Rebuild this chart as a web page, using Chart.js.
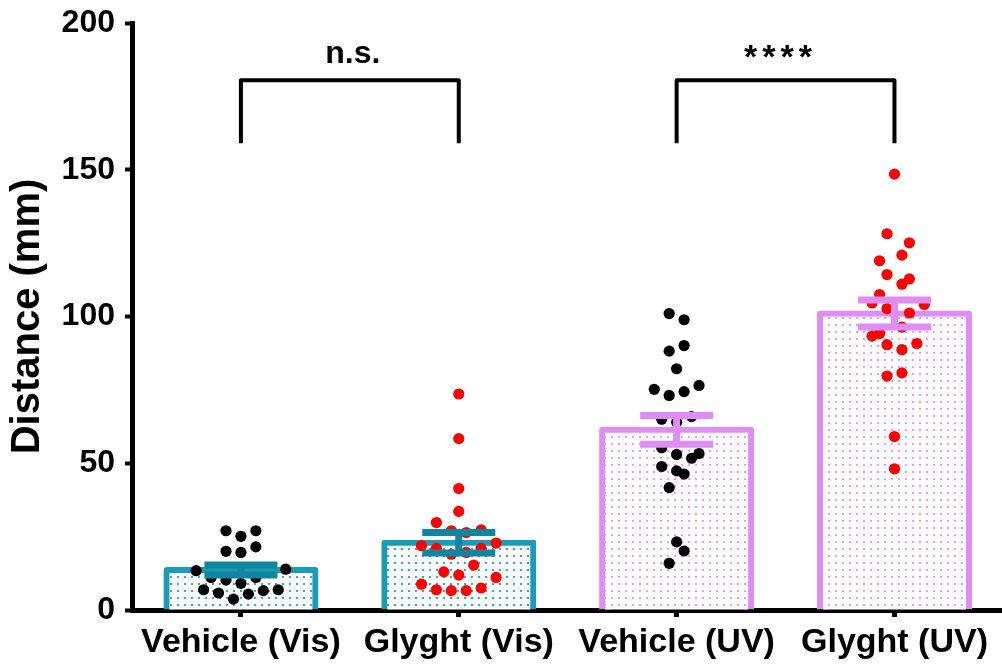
<!DOCTYPE html>
<html>
<head>
<meta charset="utf-8">
<script src="https://cdn.jsdelivr.net/npm/chart.js@4.4.1/dist/chart.umd.min.js"></script>
<style>
  html, body { margin: 0; padding: 0; background: #fff; overflow: hidden; }
  canvas { display: block; }
</style>
</head>
<body>
<canvas id="chart" width="1009" height="666"></canvas>
<script>
// Groups, bar means and SEM
const groups = ['Vehicle (Vis)', 'Glyght (Vis)', 'Vehicle (UV)', 'Glyght (UV)'];
const means = [13.6, 22.9, 61.4, 101.0];
const sems = [1.7, 3.5, 4.9, 4.6];

// Individual animals (mm) and their column slot in the dot plot
const vehicleVis = [27.0, 25.1, 27.0, 20.0, 19.6, 21.5, 13.4, 13.9, 11.1, 10.2, 9.1, 11.1, 6.9, 5.8, 3.7, 5.4, 6.6, 6.9];
const vehicleVisSlot = [-1, 0, 1, -1, 0, 1, -3, 3, -2, -1, 0, 1, -2.5, -1.5, -0.5, 0.5, 1.5, 2.5];

const glyghtVis = [73.6, 58.4, 41.4, 33.6, 29.8, 27.0, 27.3, 26.4, 21.9, 21.0, 19.0, 19.6, 21.0, 22.8, 15.3, 13.0, 11.9, 11.1, 8.8, 6.9, 6.6, 6.6, 7.5];
const glyghtVisSlot = [0, 0, 0, 0, -1.5, -0.5, 1.5, 0.5, -2.5, -1.5, -0.5, 0.5, 1.5, 2.5, 1, -1, 0, 2.5, -2.5, -1.5, -0.5, 0.5, 1.5];

const vehicleUV = [101.0, 98.9, 88.2, 90.1, 82.2, 75.2, 73.1, 74.4, 76.5, 65.0, 64.0, 65.9, 55.3, 53.0, 51.7, 53.3, 48.9, 47.4, 46.3, 41.7, 23.2, 20.1, 15.9];
const vehicleUVSlot = [-0.5, 0.5, -0.5, 0.5, 0, -1.5, -0.5, 0.5, 1.5, -1, 0, 1, -1, 0, 1, 1.5, -1, 0, 0.5, -0.5, 0, 0.5, -0.5];

const glyghtUV = [148.5, 128.2, 125.1, 120.9, 119.0, 114.3, 112.8, 111.0, 107.5, 104.6, 104.1, 102.7, 101.2, 96.4, 93.3, 94.2, 90.4, 88.7, 90.8, 79.7, 80.8, 59.1, 48.1];
const glyghtUVSlot = [0, -0.5, 1, 0.5, -1, -0.5, 1, 0.5, -1, -1.5, 2, -0.5, 1, 0.5, -1.5, -1, -0.5, 0.5, 1.5, -0.5, 0.5, 0, 0];

// Significance brackets
const bracketPairs = [[0, 1], [2, 3]];
const bracketLabels = ['n.s.', '****'];
const bracketTop = 180.5;
const bracketBottom = 159;

const FONT = '"Liberation Sans", Arial, sans-serif';
const TEAL = '#1a9cb7';
const TEAL_DARK = '#10859e';
const VIOLET = '#df8cf5';
const SLOT_W = 0.0685;

function dotPattern(color) {
    const c = document.createElement('canvas');
    c.width = 7;
    c.height = 7;
    const g = c.getContext('2d');
    g.fillStyle = '#ffffff';
    g.fillRect(0, 0, 7, 7);
    g.fillStyle = color;
    g.fillRect(2, 2, 2, 2);
    return g.createPattern(c, 'repeat');
}

const tealDots = dotPattern('#3aaac4');
const violetDots = dotPattern('#e6a0f7');

function points(values, slots, index) {
    return values.map((v, i) => ({ x: index + slots[i] * SLOT_W, y: v }));
}

const scatterSets = [
    { values: vehicleVis, slots: vehicleVisSlot, color: '#000000' },
    { values: glyghtVis, slots: glyghtVisSlot, color: '#ff0000' },
    { values: vehicleUV, slots: vehicleUVSlot, color: '#000000' },
    { values: glyghtUV, slots: glyghtUVSlot, color: '#ff0000' }
];

// Error bars drawn on top of the dots
const errorBars = {
    id: 'errorBars',
    afterDatasetsDraw(chart) {
        const { ctx, scales: { x, y } } = chart;
        ctx.save();
        means.forEach((m, i) => {
            const cx = x.getPixelForValue(i);
            const yHi = y.getPixelForValue(m + sems[i]);
            const yLo = y.getPixelForValue(m - sems[i]);
            ctx.strokeStyle = i < 2 ? TEAL_DARK : VIOLET;
            ctx.lineWidth = 7;
            ctx.lineCap = 'butt';
            ctx.beginPath();
            ctx.moveTo(cx, yHi);
            ctx.lineTo(cx, yLo);
            ctx.moveTo(cx - 36.5, yHi);
            ctx.lineTo(cx + 36.5, yHi);
            ctx.moveTo(cx - 36.5, yLo);
            ctx.lineTo(cx + 36.5, yLo);
            ctx.stroke();
        });
        ctx.restore();
    }
};

// Brackets with significance labels
const brackets = {
    id: 'brackets',
    afterDraw(chart) {
        const { ctx, scales: { x, y } } = chart;
        const yTop = y.getPixelForValue(bracketTop);
        const yBot = y.getPixelForValue(bracketBottom);
        ctx.save();
        ctx.strokeStyle = '#000';
        ctx.lineWidth = 4;
        ctx.lineJoin = 'round';
        bracketPairs.forEach(([a, b], i) => {
            const xa = x.getPixelForValue(a);
            const xb = x.getPixelForValue(b);
            ctx.beginPath();
            ctx.moveTo(xa, yBot);
            ctx.lineTo(xa, yTop);
            ctx.lineTo(xb, yTop);
            ctx.lineTo(xb, yBot);
            ctx.stroke();
            ctx.fillStyle = '#000';
            ctx.textAlign = 'center';
            ctx.textBaseline = 'alphabetic';
            if (bracketLabels[i].startsWith('*')) {
                ctx.font = 'bold 34px ' + FONT;
                ctx.letterSpacing = '5px';
                ctx.fillText(bracketLabels[i], (xa + xb) / 2 - 5, yTop - 12);
            } else {
                ctx.font = 'bold 32px ' + FONT;
                ctx.letterSpacing = '0px';
                ctx.fillText(bracketLabels[i], (xa + xb) / 2 + 3, yTop - 17);
            }
        });
        ctx.restore();
    }
};

const datasets = [{
    type: 'bar',
    data: means,
    backgroundColor: [tealDots, tealDots, violetDots, violetDots],
    borderColor: [TEAL, TEAL, VIOLET, VIOLET],
    borderWidth: 6,
    borderRadius: 3,
    borderSkipped: 'start',
    inflateAmount: 3,
    grouped: false,
    barPercentage: 0.684,
    categoryPercentage: 1,
    order: 2
}];

scatterSets.forEach((s, i) => {
    datasets.push({
        type: 'scatter',
        data: points(s.values, s.slots, i),
        xAxisID: 'xDots',
        pointRadius: 5.6,
        pointBorderWidth: 0,
        pointBackgroundColor: s.color,
        pointBorderColor: s.color,
        order: 1
    });
});

new Chart(document.getElementById('chart'), {
    data: { labels: groups, datasets },
    options: {
        responsive: false,
        animation: false,
        layout: { padding: { top: 23, right: 0, left: 0, bottom: 0 } },
        plugins: {
            legend: { display: false },
            tooltip: { enabled: false }
        },
        scales: {
            x: {
                type: 'category',
                offset: true,
                z: 1,
                afterFit: (scale) => { scale.height = 56; },
                grid: {
                    display: true,
                    drawOnChartArea: false,
                    drawTicks: true,
                    tickLength: 7,
                    tickWidth: 5,
                    tickColor: '#000',
                    offset: false
                },
                border: { display: true, width: 5, color: '#000' },
                ticks: {
                    color: '#000',
                    padding: 5,
                    font: { family: FONT, size: 34, weight: 'bold' }
                }
            },
            xDots: {
                type: 'linear',
                display: false,
                min: -0.5,
                max: 3.5
            },
            y: {
                min: 0,
                max: 200,
                afterFit: (scale) => {
                    scale.width = 132;
                    scale.paddingTop = 0;
                    scale.paddingBottom = 0;
                },
                grid: {
                    display: true,
                    drawOnChartArea: false,
                    drawTicks: true,
                    tickLength: 7,
                    tickWidth: 4,
                    tickColor: '#000'
                },
                border: { display: true, width: 5, color: '#000' },
                ticks: {
                    stepSize: 50,
                    color: '#000',
                    padding: 10,
                    font: { family: FONT, size: 32, weight: 'bold' }
                },
                title: {
                    display: true,
                    text: 'Distance (mm)',
                    color: '#000',
                    padding: { top: 4, bottom: 0 },
                    font: { family: FONT, size: 40, weight: 'bold' }
                }
            }
        }
    },
    plugins: [errorBars, brackets]
});
</script>
</body>
</html>
